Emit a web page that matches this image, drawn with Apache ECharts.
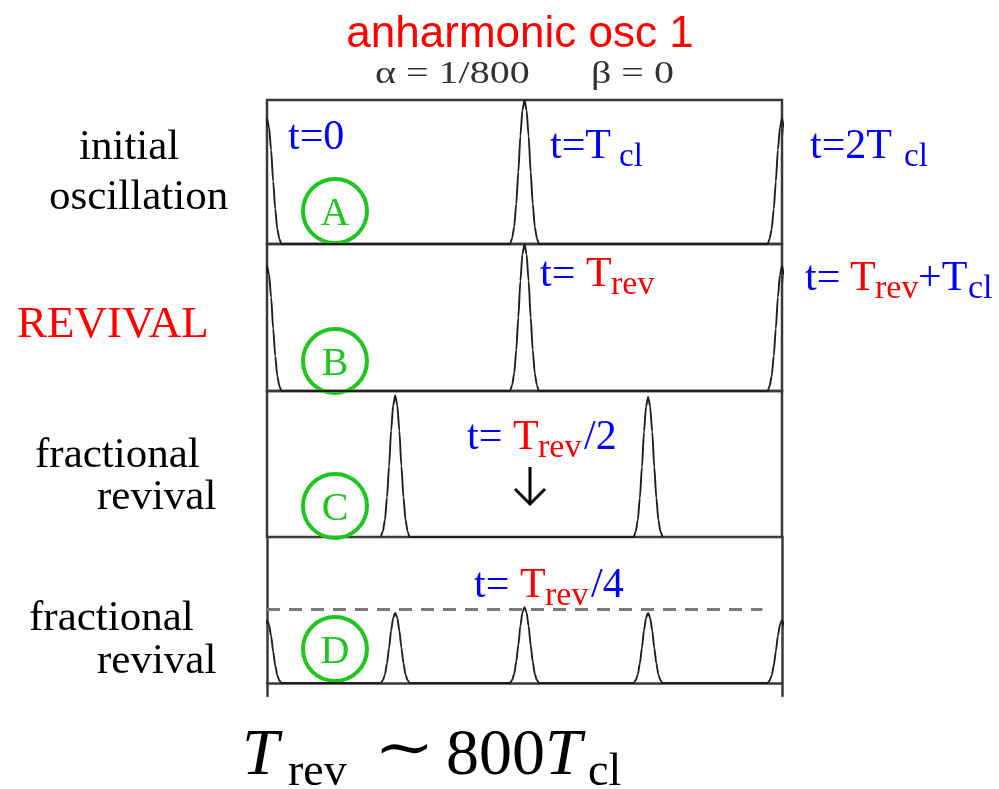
<!DOCTYPE html>
<html>
<head>
<meta charset="utf-8">
<script src="https://cdn.jsdelivr.net/npm/echarts@6/dist/echarts.min.js"></script>
<style>
  html, body { margin: 0; padding: 0; background: #fff; }
  #chart { width: 999px; height: 789px; }
</style>
</head>
<body>
<div id="chart"></div>
<script>
// Shape of one wave packet: offset from its centre (fraction of the window) and relative height
const profileOffsets = [0, 0.004, 0.008, 0.012, 0.016, 0.020, 0.024, 0.028];
const profileHeights = [1.0, 0.93, 0.75, 0.50, 0.28, 0.12, 0.04, 0.0];

// Packet centres and peak heights in each panel (window runs from 0 to 1)
const peaksA = [0, 0.5, 1];
const heightsA = [0.87, 1.0, 0.87];
const peaksB = [0, 0.5, 1];
const heightsB = [0.85, 1.0, 0.85];
const peaksC = [0.249, 0.74];
const heightsC = [0.97, 0.96];
const peaksD = [0, 0.249, 0.5, 0.74, 1];
const heightsD = [0.43, 0.48, 0.52, 0.48, 0.43];

// Dashed reference level in the quarter-revival panel
const dashLevelD = 0.507;
const dashEndD = 0.962;

const panelLetters = ['A', 'B', 'C', 'D'];

const SERIF = "'Liberation Serif', 'Times New Roman', serif";
const SANS = "'Liberation Sans', Arial, sans-serif";
const BLUE = '#0000ff';
const RED = '#ff0000';
const GREEN = '#1fc61f';
const FRAME = '#3a3a3a';

function buildCurve(centers, heights) {
  const pts = [];
  centers.forEach((c, i) => {
    const h = heights[i];
    for (let k = profileOffsets.length - 1; k > 0; k--) {
      pts.push([c - profileOffsets[k], h * profileHeights[k]]);
    }
    for (let k = 0; k < profileOffsets.length; k++) {
      pts.push([c + profileOffsets[k], h * profileHeights[k]]);
    }
  });
  return pts;
}

const panels = [
  { centers: peaksA, heights: heightsA },
  { centers: peaksB, heights: heightsB },
  { centers: peaksC, heights: heightsC },
  { centers: peaksD, heights: heightsD }
];

const grids = [
  { left: 267, width: 515, top: 100, height: 144, show: true, borderColor: FRAME, borderWidth: 2.5 },
  { left: 267, width: 515, top: 244, height: 147, show: true, borderColor: FRAME, borderWidth: 2.5 },
  { left: 267, width: 515, top: 391, height: 146, show: true, borderColor: FRAME, borderWidth: 2.5 },
  { left: 267, width: 515, top: 537, height: 159, show: false }
];

const hidden = { show: false };
const frameLine = { show: true, onZero: true, lineStyle: { color: FRAME, width: 2.5 } };

const xAxes = grids.map((g, i) => ({
  type: 'value', gridIndex: i, min: 0, max: 1,
  show: i === 3,
  axisLine: i === 3 ? frameLine : hidden,
  axisTick: hidden, axisLabel: hidden, splitLine: hidden
}));
const yAxes = grids.map((g, i) => ({
  type: 'value', gridIndex: i, min: i === 3 ? -0.089 : 0, max: 1,
  show: i === 3, position: 'left',
  axisLine: i === 3 ? { show: true, onZero: false, lineStyle: { color: FRAME, width: 2.5 } } : hidden,
  axisTick: hidden, axisLabel: hidden, splitLine: hidden
}));
// right-hand frame edge of the last panel
yAxes.push({
  type: 'value', gridIndex: 3, min: -0.089, max: 1, position: 'right',
  axisLine: { show: true, onZero: false, lineStyle: { color: FRAME, width: 2.5 } },
  axisTick: hidden, axisLabel: hidden, splitLine: hidden
});

const series = panels.map((p, i) => {
  const s = {
    type: 'line', xAxisIndex: i, yAxisIndex: i,
    data: buildCurve(p.centers, p.heights),
    showSymbol: false, symbol: 'none', clip: true,
    smooth: 0.25, smoothMonotone: 'x',
    lineStyle: { color: '#1e1e1e', width: 1.9 },
    silent: true, z: 3
  };
  if (i === 3) {
    s.markLine = {
      silent: true, symbol: 'none', label: { show: false },
      lineStyle: { color: '#7a7a7a', width: 3, type: [13, 9] },
      data: [[{ coord: [0, dashLevelD] }, { coord: [dashEndD, dashLevelD] }]]
    };
  }
  return s;
});

// text placed by its baseline
function txt(x, base, text, size, fill, family, extra) {
  extra = extra || {};
  return {
    type: 'text', x: x, y: base - 0.32 * size, silent: true,
    scaleX: extra.scaleX || 1,
    style: {
      text: text, fill: fill,
      font: (extra.fontStyle ? extra.fontStyle + ' ' : '') + size + 'px ' + family,
      align: extra.align || 'left', verticalAlign: 'middle'
    }
  };
}

const texts = [
  txt(520, 49, 'anharmonic osc 1', 44, RED, SANS, { align: 'center' }),
  txt(375, 85, 'α = 1/800', 32, '#333', SERIF, { scaleX: 1.25 }),
  txt(591, 85, 'β = 0', 32, '#333', SERIF, { scaleX: 1.25 }),

  txt(79, 161, 'initial', 43, '#000', SERIF),
  txt(49, 211, 'oscillation', 43, '#000', SERIF),
  txt(17, 340, 'REVIVAL', 45, RED, SERIF),
  txt(35, 469, 'fractional', 43, '#000', SERIF),
  txt(97, 511, 'revival', 43, '#000', SERIF),
  txt(29, 632, 'fractional', 43, '#000', SERIF),
  txt(97, 675, 'revival', 43, '#000', SERIF),

  txt(288, 151, 't=0', 42, BLUE, SERIF),
  txt(550, 160, 't=T', 42, BLUE, SERIF),
  txt(619, 168, 'cl', 33, BLUE, SERIF),
  txt(810, 160, 't=2T', 42, BLUE, SERIF),
  txt(904, 168, 'cl', 33, BLUE, SERIF),

  txt(540, 288, 't=', 42, BLUE, SERIF),
  txt(586, 288, 'T', 42, RED, SERIF),
  txt(611, 296, 'rev', 34, RED, SERIF),
  txt(805, 292, 't=', 42, BLUE, SERIF),
  txt(850, 292, 'T', 42, RED, SERIF),
  txt(875, 300, 'rev', 34, RED, SERIF),
  txt(918, 292, '+T', 42, BLUE, SERIF),
  txt(968, 300, 'cl', 34, BLUE, SERIF),

  txt(467, 451, 't=', 42, BLUE, SERIF),
  txt(513, 451, 'T', 42, RED, SERIF),
  txt(538, 459, 'rev', 34, RED, SERIF),
  txt(584, 451, '/2', 42, BLUE, SERIF),

  txt(474, 599, 't=', 42, BLUE, SERIF),
  txt(520, 599, 'T', 42, RED, SERIF),
  txt(545, 607, 'rev', 34, RED, SERIF),
  txt(591, 599, '/4', 42, BLUE, SERIF),

  txt(242, 778, 'T', 66, '#000', SERIF, { fontStyle: 'italic' }),
  txt(288, 788, 'rev', 46, '#000', SERIF),
  txt(374, 770, '∼', 58, '#000', "'DejaVu Serif', serif", { scaleX: 1.25 }),
  txt(446, 778, '800', 66, '#000', SERIF),
  txt(545, 778, 'T', 66, '#000', SERIF, { fontStyle: 'italic' }),
  txt(588, 788, 'cl', 46, '#000', SERIF)
];

// panel badges
const badgeCentres = [[335, 211], [335, 361], [335, 506], [335, 649]];
const badges = [];
badgeCentres.forEach((c, i) => {
  badges.push({
    type: 'circle', silent: true,
    shape: { cx: c[0], cy: c[1], r: 32 },
    style: { fill: 'none', stroke: GREEN, lineWidth: 4 }
  });
  badges.push({
    type: 'text', x: c[0], y: c[1] + 3, silent: true,
    style: { text: panelLetters[i], fill: GREEN, font: '40px ' + SERIF, align: 'center', verticalAlign: 'middle' }
  });
});

// downward arrow under the half-revival label
const arrow = [
  { type: 'line', silent: true, shape: { x1: 530, y1: 467, x2: 530, y2: 503 }, style: { stroke: '#000', lineWidth: 3 } },
  { type: 'polyline', silent: true, shape: { points: [[515, 489], [530, 504], [545, 489]] }, style: { stroke: '#000', lineWidth: 3, fill: 'none' } }
];

const chart = echarts.init(document.getElementById('chart'), null, { renderer: 'canvas' });
chart.setOption({
  animation: false,
  backgroundColor: '#fff',
  grid: grids,
  xAxis: xAxes,
  yAxis: yAxes,
  series: series,
  graphic: texts.concat(badges, arrow)
});
</script>
</body>
</html>
